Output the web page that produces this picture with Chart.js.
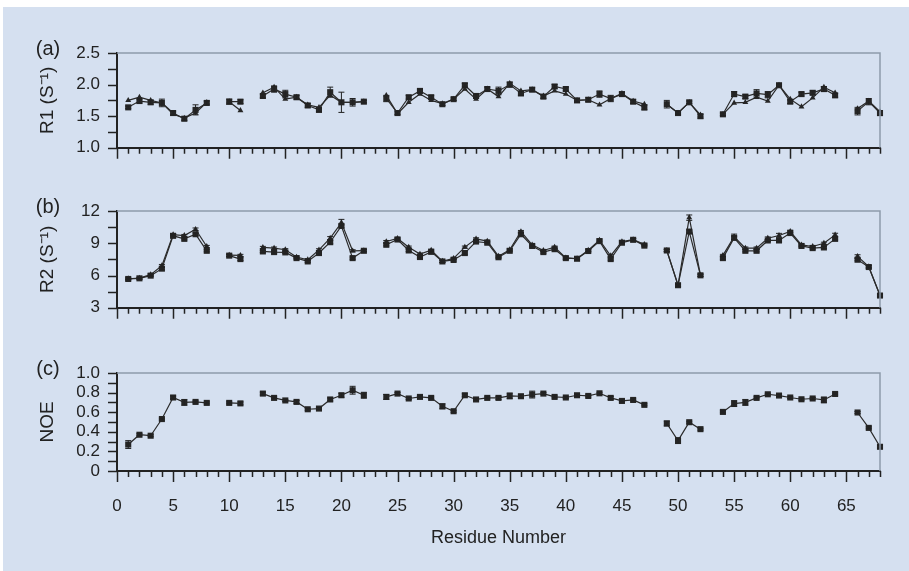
<!DOCTYPE html>
<html><head><meta charset="utf-8">
<script src="https://cdn.jsdelivr.net/npm/chart.js@4.4.1/dist/chart.umd.min.js"></script>
<style>
html,body{margin:0;padding:0;background:#fff;width:909px;height:571px;overflow:hidden;}
#bg{position:absolute;left:3px;top:7px;right:0;bottom:0;background:#d5e0f0;}
canvas{position:absolute;left:0;}
</style></head><body>
<div id="bg"></div>
<canvas id="ca" width="909" height="175" style="top:0"></canvas>
<canvas id="cb" width="909" height="160" style="top:175px"></canvas>
<canvas id="cc" width="909" height="236" style="top:335px"></canvas>
<script>
// residue numbers 1..68 (null values = unassigned residues)
const residues = [1,2,3,4,5,6,7,8,9,10,11,12,13,14,15,16,17,18,19,20,21,22,23,24,25,26,27,28,29,30,31,32,33,34,35,36,37,38,39,40,41,42,43,44,45,46,47,48,49,50,51,52,53,54,55,56,57,58,59,60,61,62,63,64,65,66,67,68];

const r1Square = [1.64,1.74,1.72,1.71,1.55,1.46,1.60,1.71,null,1.73,1.73,null,
  1.82,1.93,1.85,1.80,1.67,1.60,1.88,1.72,1.72,1.73,null,
  1.78,1.55,1.80,1.90,1.80,1.69,1.77,1.99,1.82,1.93,1.90,2.00,1.86,1.92,1.81,1.97,1.93,1.75,1.76,1.85,1.78,1.85,1.73,1.64,null,
  1.69,1.55,1.72,1.50,null,
  1.53,1.85,1.81,1.86,1.84,1.99,1.73,1.85,1.87,1.93,1.83,null,
  1.58,1.73,1.55];
const r1SquareErr = [0.02,0.03,0.03,0.06,0.03,0.03,0.08,0.03,null,0.04,0.03,null,
  0.03,0.05,0.06,0.03,0.03,0.03,0.08,0.16,0.06,0.02,null,
  0.05,0.02,0.03,0.03,0.03,0.02,0.02,0.03,0.03,0.03,0.06,0.04,0.03,0.03,0.03,0.03,0.03,0.03,0.03,0.05,0.05,0.03,0.03,0.04,null,
  0.06,0.02,0.02,0.03,null,
  0.02,0.04,0.03,0.06,0.05,0.02,0.03,0.03,0.03,0.04,0.03,null,
  0.06,0.05,0.04];
const r1Triangle = [1.75,1.80,1.75,1.71,1.53,1.47,1.55,1.72,null,1.73,1.59,null,
  1.87,1.96,1.77,1.80,1.68,1.64,1.83,1.72,1.72,1.73,null,
  1.83,1.54,1.72,1.85,1.75,1.70,1.77,1.93,1.77,1.93,1.81,2.02,1.90,1.92,1.82,1.90,1.85,1.75,1.76,1.68,1.78,1.86,1.74,1.69,null,
  1.69,1.55,1.72,1.52,null,
  1.53,1.71,1.72,1.80,1.74,1.99,1.77,1.65,1.79,1.96,1.87,null,
  1.62,1.74,1.57];

const r2Square = [5.68,5.74,5.99,6.64,9.69,9.41,9.84,8.30,null,7.85,7.53,null,
  8.24,8.18,8.15,7.62,7.31,8.09,9.10,10.61,7.62,8.30,null,
  8.86,9.35,8.33,7.72,8.20,7.31,7.45,8.09,9.16,9.05,7.70,8.30,9.84,8.75,8.18,8.45,7.62,7.56,8.28,9.20,7.53,9.05,9.32,8.78,null,
  8.33,5.10,10.09,6.02,null,
  7.62,9.50,8.30,8.30,9.26,9.26,9.95,8.75,8.55,8.61,9.41,null,
  7.47,6.79,4.14];
const r2SquareErr = [0.08,0.08,0.10,0.12,0.10,0.10,0.12,0.10,null,0.10,0.12,null,
  0.10,0.10,0.10,0.10,0.10,0.10,0.15,0.15,0.10,0.10,null,
  0.10,0.10,0.10,0.10,0.10,0.10,0.10,0.10,0.10,0.10,0.10,0.10,0.10,0.10,0.10,0.10,0.10,0.10,0.10,0.10,0.10,0.10,0.10,0.10,null,
  0.10,0.10,0.15,0.10,null,
  0.10,0.15,0.10,0.10,0.10,0.12,0.10,0.10,0.10,0.10,0.10,null,
  0.10,0.10,0.10];
const r2Triangle = [5.70,5.76,6.08,6.91,9.81,9.72,10.30,8.70,null,7.90,7.87,null,
  8.61,8.55,8.40,7.72,7.47,8.39,9.47,10.92,8.30,8.32,null,
  9.16,9.45,8.64,7.99,8.35,7.33,7.60,8.64,9.41,9.20,7.80,8.40,10.09,8.85,8.33,8.64,7.64,7.58,8.35,9.30,7.84,9.15,9.34,8.90,null,
  8.33,5.10,11.38,6.04,null,
  7.87,9.60,8.55,8.55,9.47,9.72,10.10,8.85,8.70,9.00,9.78,null,
  7.78,6.82,4.16];
const r2TriangleErr = [0.08,0.08,0.10,0.12,0.10,0.10,0.12,0.10,null,0.10,0.10,null,
  0.10,0.10,0.10,0.10,0.10,0.10,0.15,0.30,0.10,0.10,null,
  0.10,0.10,0.10,0.10,0.10,0.10,0.10,0.10,0.10,0.10,0.10,0.10,0.10,0.10,0.10,0.10,0.10,0.10,0.10,0.10,0.10,0.10,0.10,0.10,null,
  0.10,0.10,0.25,0.10,null,
  0.10,0.25,0.10,0.10,0.12,0.20,0.12,0.10,0.10,0.10,0.15,null,
  0.15,0.10,0.10];

const noe = [0.27,0.37,0.36,0.53,0.75,0.70,0.705,0.695,null,0.695,0.69,null,
  0.79,0.746,0.72,0.705,0.63,0.637,0.73,0.773,0.824,0.773,null,
  0.756,0.79,0.74,0.756,0.746,0.66,0.61,0.773,0.73,0.746,0.746,0.766,0.763,0.78,0.79,0.756,0.75,0.773,0.766,0.793,0.746,0.715,0.725,0.675,null,
  0.485,0.31,0.498,0.427,null,
  0.603,0.688,0.70,0.746,0.783,0.77,0.75,0.732,0.74,0.725,0.786,null,
  0.597,0.44,0.247];
const noeErr = [0.04,0.01,0.01,0.01,0.015,0.03,0.01,0.01,null,0.01,0.015,null,
  0.015,0.01,0.01,0.015,0.01,0.01,0.015,0.02,0.04,0.03,null,
  0.025,0.01,0.01,0.01,0.01,0.025,0.01,0.015,0.01,0.01,0.015,0.03,0.015,0.035,0.01,0.01,0.01,0.01,0.01,0.01,0.015,0.01,0.01,0.01,null,
  0.025,0.03,0.01,0.01,null,
  0.01,0.03,0.03,0.01,0.01,0.01,0.01,0.01,0.01,0.03,0.01,null,
  0.01,0.01,0.015];

// axis tick values
const xTickLabels = [0,5,10,15,20,25,30,35,40,45,50,55,60,65];
const r1TickLabels = [1.0,1.5,2.0,2.5];
const r1MinorTicks = [1.0,1.25,1.5,1.75,2.0,2.25,2.5];
const r2TickLabels = [3,6,9,12];
const r2MinorTicks = [3,4.5,6,7.5,9,10.5,12];
const noeTickLabels = [0,0.2,0.4,0.6,0.8,1.0];
const noeMinorTicks = [0,0.1,0.2,0.3,0.4,0.5,0.6,0.7,0.8,0.9,1.0];

const FONT = "'Liberation Sans', Arial, Helvetica, sans-serif";
const INK = '#222';

function pts(vals){ return residues.map((r,i)=>({x:r, y:vals[i]})); }

const framePlugin = {
  id:'frame',
  afterDraw(chart){
    const o = chart.options.plugins.frame;
    const {ctx, chartArea:a} = chart;
    const xs = chart.scales.x, ys = chart.scales.y;
    ctx.save();
    ctx.strokeStyle = '#8d9aab'; ctx.lineWidth = 1.5;
    ctx.beginPath(); ctx.moveTo(a.left, a.top); ctx.lineTo(a.right, a.top); ctx.lineTo(a.right, a.bottom); ctx.stroke();
    ctx.strokeStyle = INK; ctx.lineWidth = 1.5;
    ctx.beginPath();
    for (let v = xs.min; v <= xs.max; v++){
      const px = Math.round(xs.getPixelForValue(v)) + 0.5;
      const len = (v % 5 === 0) ? 11 : 6;
      ctx.moveTo(px, a.bottom); ctx.lineTo(px, a.bottom + len);
    }
    for (const v of o.minor){
      const py = Math.round(ys.getPixelForValue(v)) + 0.5;
      ctx.moveTo(a.left - 9, py); ctx.lineTo(a.left, py);
    }
    ctx.stroke();
    ctx.fillStyle = INK; ctx.font = "20px " + FONT; ctx.textAlign = 'center'; ctx.textBaseline = 'middle';
    ctx.fillText(o.letter, 48, a.top - 4);
    ctx.restore();
  }
};

const errPlugin = {
  id:'errbars',
  afterDatasetsDraw(chart){
    const {ctx} = chart; const ys = chart.scales.y;
    ctx.save(); ctx.strokeStyle = INK; ctx.lineWidth = 1;
    chart.data.datasets.forEach((ds, di) => {
      if (!ds.errors) return;
      const meta = chart.getDatasetMeta(di);
      meta.data.forEach((p, i) => {
        const v = ds.data[i].y, e = ds.errors[i];
        if (v == null || e == null) return;
        const y1 = ys.getPixelForValue(v - e), y2 = ys.getPixelForValue(v + e), x = p.x;
        ctx.beginPath();
        ctx.moveTo(x, y1); ctx.lineTo(x, y2);
        ctx.moveTo(x - 3, y1); ctx.lineTo(x + 3, y1);
        ctx.moveTo(x - 3, y2); ctx.lineTo(x + 3, y2);
        ctx.stroke();
      });
    });
    ctx.restore();
  }
};

function series(vals, errs, style){
  return {
    data: pts(vals), errors: errs,
    borderColor: '#2a2a2a', borderWidth: 1.2, backgroundColor: '#262626',
    pointStyle: style, pointRadius: style === 'rect' ? 4.3 : 3.4,
    pointBorderWidth: 0, spanGaps: false, tension: 0, clip: false
  };
}

function make(id, cfg){
  return new Chart(document.getElementById(id), {
    type:'line',
    data:{datasets: cfg.datasets},
    options:{
      responsive:false, animation:false, devicePixelRatio:1,
      layout:{padding:{left:0, right:29, top:cfg.top, bottom:0}},
      plugins:{legend:{display:false}, tooltip:{enabled:false}, frame:{letter:cfg.letter, minor:cfg.minor}},
      scales:{
        x:{type:'linear', min:0, max:68, position:'bottom',
          afterFit(s){ s.height = cfg.xH; },
          afterBuildTicks(s){ s.ticks = xTickLabels.map(v=>({value:v})); },
          ticks:{display:cfg.showX, autoSkip:false, maxRotation:0, padding:25, color:INK, font:{family:FONT, size:17}},
          grid:{display:false, drawTicks:false},
          border:{display:true, color:INK, width:2},
          title:{display:cfg.showX, text:'Residue Number', color:INK, font:{family:FONT, size:18}, padding:{top:0,bottom:22}}
        },
        y:{type:'linear', min:cfg.min, max:cfg.max,
          afterFit(s){ s.width = 117; },
          afterBuildTicks(s){ s.ticks = cfg.labels.map(v=>({value:v})); },
          ticks:{callback:cfg.fmt, autoSkip:false, padding:17, color:INK, font:{family:FONT, size:17}},
          grid:{display:false, drawTicks:false},
          border:{display:true, color:INK, width:2},
          title:{display:true, text:cfg.title, color:INK, font:{family:FONT, size:19}, padding:{top:36, bottom:0}}
        }
      }
    },
    plugins:[framePlugin, errPlugin]
  });
}

make('ca', {top:53, xH:25, showX:false, min:1, max:2.5, labels:r1TickLabels, minor:r1MinorTicks,
  fmt:v=>v.toFixed(1), title:'R1 (S\u207B\u00B9)', letter:'(a)',
  datasets:[series(r1Triangle, null, 'triangle'), series(r1Square, r1SquareErr, 'rect')]});
make('cb', {top:36, xH:27, showX:false, min:3, max:12, labels:r2TickLabels, minor:r2MinorTicks,
  fmt:v=>String(v), title:'R2 (S\u207B\u00B9)', letter:'(b)',
  datasets:[series(r2Triangle, r2TriangleErr, 'triangle'), series(r2Square, r2SquareErr, 'rect')]});
make('cc', {top:38, xH:100, showX:true, min:0, max:1, labels:noeTickLabels, minor:noeMinorTicks,
  fmt:v=>v===0 ? '0' : v.toFixed(1), title:'NOE', letter:'(c)',
  datasets:[series(noe, noeErr, 'rect')]});
</script>
</body></html>
